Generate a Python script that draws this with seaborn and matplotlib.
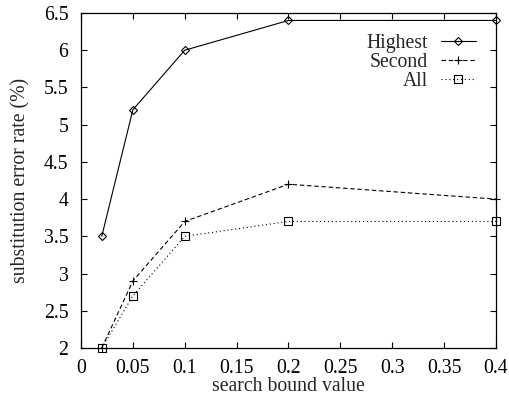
import matplotlib
matplotlib.use("Agg")
import matplotlib.pyplot as plt
import seaborn as sns
import numpy as np
from matplotlib.ticker import FuncFormatter, MultipleLocator

x_vals = [0.02, 0.05, 0.1, 0.2, 0.4]
highest = [3.5, 5.2, 6.0, 6.4, 6.4]
second = [2.0, 2.9, 3.7, 4.2, 4.0]
all_vals = [2.0, 2.7, 3.5, 3.7, 3.7]
series_names = ["Highest", "Second", "All"]
x_ticks = [0, 0.05, 0.1, 0.15, 0.2, 0.25, 0.3, 0.35, 0.4]
y_ticks = [2, 2.5, 3, 3.5, 4, 4.5, 5, 5.5, 6, 6.5]

sns.set_style("ticks")
plt.rcParams['font.family'] = ['Liberation Serif', 'DejaVu Serif']
plt.rcParams['font.size'] = 14

FS = 14.2

fig = plt.figure(figsize=(5.1, 3.97), dpi=100)
ax = fig.add_axes([81/510, 1-348/397, (496-81)/510, (348-13)/397])

styles = [
    dict(marker='D', ls='-', ms=4.5),
    dict(marker='+', ls=(0, (4, 2.5)), ms=6),
    dict(marker='s', ls=(0, (1, 2.5)), ms=5.5),
]
for name, vals, st in zip(series_names, [highest, second, all_vals], styles):
    sns.lineplot(x=x_vals, y=vals, ax=ax, color='black', lw=0.8,
                 marker=st['marker'], linestyle=st['ls'], markersize=st['ms'],
                 markerfacecolor='none', markeredgecolor='black', markeredgewidth=0.8,
                 label=name, clip_on=False)

ax.set_xlim(0, 0.4)
ax.set_ylim(2, 6.5)
ax.set_xticks(x_ticks)
ax.set_yticks(y_ticks)
fmt = FuncFormatter(lambda v, p: '%g' % round(v, 4))
ax.xaxis.set_major_formatter(fmt)
ax.yaxis.set_major_formatter(fmt)
ax.tick_params(direction='in', top=True, right=True, length=4, width=0.8,
               labelsize=FS, colors='black')
ax.tick_params(axis='y', pad=9)
ax.tick_params(axis='x', pad=8)
for s in ax.spines.values():
    s.set_visible(True)
    s.set_linewidth(0.9)
    s.set_color('black')

ax.set_xlabel("search bound value", fontsize=FS, labelpad=-0.5)
ax.set_ylabel("substitution error rate (%)", fontsize=FS, labelpad=10)

leg = ax.legend(loc='upper right', bbox_to_anchor=(0.952, 0.938), frameon=False,
                markerfirst=False, fontsize=FS, handlelength=1.8, labelspacing=0.0,
                borderpad=0, handletextpad=0.65, borderaxespad=0)

fig.savefig("out.png", dpi=100)
